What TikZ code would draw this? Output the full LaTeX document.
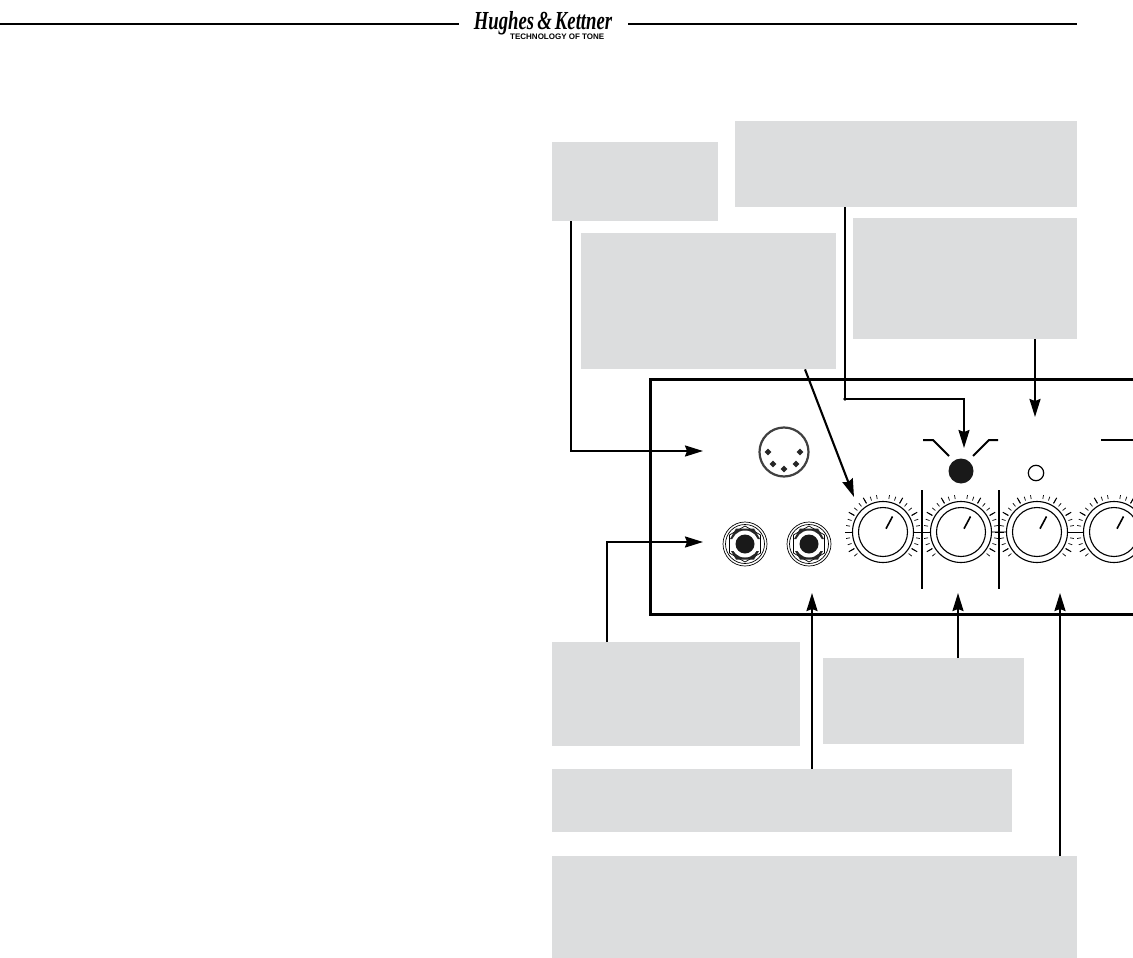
\documentclass[tikz,border=0pt]{standalone}
\usepackage{fontspec}
\usetikzlibrary{arrows.meta,shapes.geometric}
\newfontfamily\logofont{Liberation Sans}
\newfontfamily\brandfont{Liberation Serif}
\definecolor{boxgray}{HTML}{DCDDDE}
\tikzset{
    infobox/.style={fill=boxgray,anchor=north west,inner sep=0pt},
    callout/.style={line width=2.1pt,-{Stealth[length=18pt,width=11pt,inset=2pt]}},
    knobtick/.style={line width=0.7pt},
    pin/.style={diamond,fill=black!85,inner sep=0pt,minimum size=7pt}
}
\newcommand{\knob}[2]{%
    \foreach \a in {-40,-30,...,80,100,110,...,220}
    \draw[knobtick] (#1,#2) ++(-\a:33.5) -- ++(-\a:4);
    \foreach \a in {-30,30,60,120,150,210}
    \draw[line width=1pt] (#1,#2) ++(-\a:33) -- ++(-\a:6.5);
    \draw[line width=1.1pt] (#1,#2) circle (30.5);
    \draw[line width=1.1pt] (#1,#2) circle (24.5);
    \draw[line width=1.6pt] (#1+3,#2-3.3) -- (#1+9.5,#2-15.5);
}
\newcommand{\jack}[2]{%
    \draw[line width=0.7pt] (#1,#2) circle (22);
    \draw[line width=0.7pt] (#1,#2) circle (19.5);
    \node[regular polygon,regular polygon sides=6,shape border rotate=30,draw,line width=0.7pt,minimum size=36pt,inner sep=0pt] at (#1,#2) {};
    \fill[black!85] (#1-15,#2-5) -- (#1-9,#2-15.5) -- (#1+9,#2-15.5) -- (#1+15,#2-5) -- cycle;
    \fill[black!85] (#1-14,#2+7) -- (#1-9,#2+15.5) -- (#1+9,#2+15.5) -- (#1+14,#2+7) -- cycle;
    \fill[white] (#1,#2) circle (13.5);
    \fill[black!90] (#1,#2) circle (9.5);
}
\begin{document}
\begin{tikzpicture}[x=1pt,y=-1pt]
    \useasboundingbox (0,0) rectangle (1133,958);

    \draw[line width=1.4pt] (0,24) -- (459,24);
    \draw[line width=1.4pt] (628,24) -- (1077,24);
    \node[anchor=base,inner sep=0pt,text depth=0pt,font=\brandfont\fontsize{26}{26}\selectfont\bfseries\itshape,xscale=0.72] (logo) at (543,30) {Hughes\,\&\,Kettner};
    \node[anchor=west,inner sep=0pt,font=\logofont\fontsize{8}{8}\selectfont\bfseries] (tagline) at (510,37) {TECHNOLOGY OF TONE};

    \node[infobox,minimum width=166pt,minimum height=79pt] (boxmidi) at (552,142) {};
    \node[infobox,minimum width=342pt,minimum height=86pt] (boxled) at (735,121) {};
    \node[infobox,minimum width=255pt,minimum height=136pt] (boxgain) at (581,233) {};
    \node[infobox,minimum width=224pt,minimum height=121pt] (boxlamp) at (853,218) {};
    \node[infobox,minimum width=248pt,minimum height=104pt] (boxjack) at (552,642) {};
    \node[infobox,minimum width=201pt,minimum height=86pt] (boxvolume) at (823,658) {};
    \node[infobox,minimum width=460pt,minimum height=63pt] (boxinput) at (552,769) {};
    \node[infobox,minimum width=525pt,minimum height=102pt] (boxeq) at (552,856) {};

    \draw[line width=3pt] (1133,379) -- (650,379) -- (650,614) -- (1133,614);

    \draw[line width=1pt] (845,532) -- (1133,532);
    \draw[line width=1.8pt,black!40] (990,532) -- (1008,532);
    \foreach \x in {883,961,1037,1114}
    {\fill[white] (\x,532) circle (30.5);}
    \foreach \x in {883,961,1037,1114}
    {\knob{\x}{532}}

    \draw[line width=2pt] (922,490) -- (922,589);
    \draw[line width=2pt] (999,490) -- (999,589);

    \draw[line width=2.2pt,black!75] (784,452) circle (24.5);
    \foreach \x/\y in {768/452,800/452,773/464,784/469,796/464}
    {\node[pin] at (\x,\y) {};}

    \jack{745}{544}
    \jack{809}{544}

    \fill[black!90] (961,471) circle (12.5);
    \draw[line width=1.2pt] (1036,473) circle (7.7);
    \draw[line width=2pt] (923,440) -- (933,440) -- (949,456);
    \draw[line width=2pt] (998,440) -- (989,440) -- (973,456);
    \draw[line width=2pt] (1101,440) -- (1133,440);

    \coordinate (tipmidi) at (703,451);
    \coordinate (tipjack) at (703,542);
    \coordinate (tipgain) at (854,497);
    \coordinate (bendled) at (845,399);
    \coordinate (tipled) at (964,448);
    \coordinate (tiplamp) at (1035,417);
    \coordinate (tipinput) at (812,593);
    \coordinate (tipvolume) at (958,593);
    \coordinate (tipeq) at (1060,593);

    \draw[callout] ([xshift=19pt]boxmidi.south west) |- (tipmidi);
    \draw[callout] ([xshift=55pt]boxjack.north west) |- (tipjack);
    \draw[callout] ([xshift=224pt]boxgain.south west) -- (tipgain);
    \draw[line width=2.1pt] ([xshift=110pt]boxled.south west) -- (bendled);
    \fill (bendled) circle (1.8);
    \draw[callout] (bendled) -| (tipled);
    \draw[callout] ([xshift=182pt]boxlamp.south west) -- (tiplamp);
    \draw[callout] ([xshift=260pt]boxinput.north west) -- (tipinput);
    \draw[callout] ([xshift=135pt]boxvolume.north west) -- (tipvolume);
    \draw[callout] ([xshift=508pt]boxeq.north west) -- (tipeq);
\end{tikzpicture}
\end{document}
